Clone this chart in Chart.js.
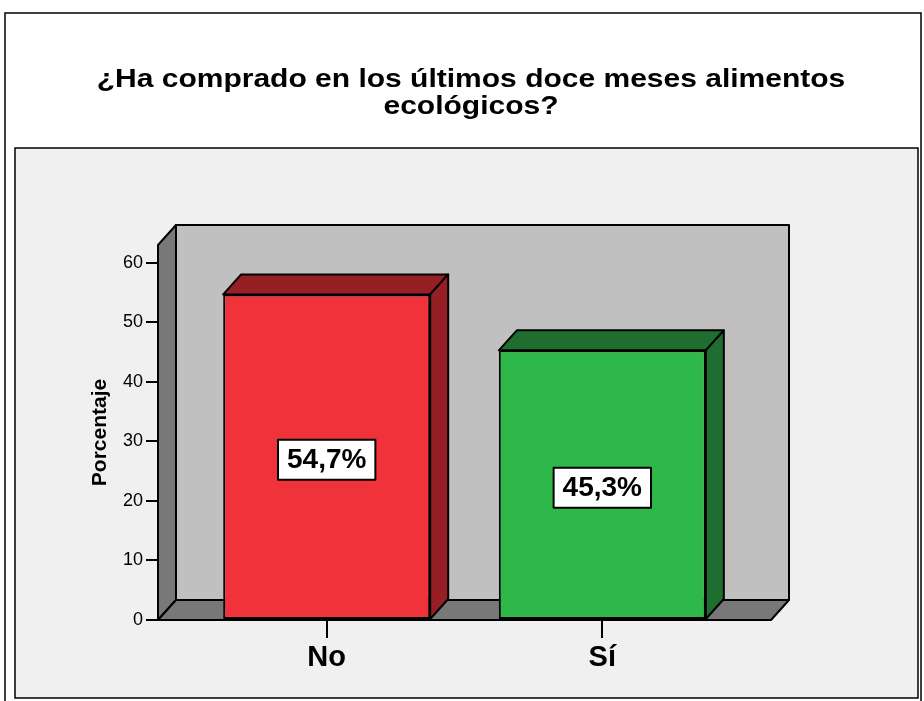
<!DOCTYPE html>
<html>
<head>
<meta charset="utf-8">
<script src="https://cdn.jsdelivr.net/npm/chart.js@4"></script>
<style>
  html, body { margin: 0; padding: 0; background: #fff; }
  #wrap { width: 924px; height: 701px; }
</style>
</head>
<body>
<div id="wrap"><canvas id="bar3d" width="924" height="701"></canvas></div>
<script>
var categories = ["No", "Sí"];
var percentages = [54.7, 45.3];
var yTicks = [0, 10, 20, 30, 40, 50, 60];
var titleLines = ["¿Ha comprado en los últimos doce meses alimentos", "ecológicos?"];
var yTitle = "Porcentaje";

var frontColors = ["#F0323A", "#2EB84A"];
var shadeColors = ["#961F25", "#1F6E2F"];
var DX = 18, DY = -20; // depth of the 3d effect

function poly(ctx, pts, fill) {
  ctx.beginPath();
  ctx.moveTo(pts[0][0], pts[0][1]);
  for (var i = 1; i < pts.length; i++) ctx.lineTo(pts[i][0], pts[i][1]);
  ctx.closePath();
  ctx.fillStyle = fill;
  ctx.fill();
  ctx.stroke();
}

// background, frames and title
var framePlugin = {
  id: "frame",
  beforeDraw: function (chart) {
    var ctx = chart.ctx;
    ctx.save();
    ctx.fillStyle = "#fff";
    ctx.fillRect(0, 0, chart.width, chart.height);
    ctx.strokeStyle = "#000";
    ctx.lineWidth = 1.5;
    ctx.strokeRect(5, 13, 916, 720);
    ctx.fillStyle = "#F0F0F0";
    ctx.fillRect(15, 148, 903, 550);
    ctx.strokeRect(15, 148, 903, 550);

    ctx.fillStyle = "#000";
    ctx.font = "bold 25px 'Liberation Sans', Arial, sans-serif";
    ctx.textAlign = "center";
    ctx.textBaseline = "middle";
    titleLines.forEach(function (line, i) {
      ctx.save();
      ctx.translate(471, 80 + i * 27);
      ctx.scale(1.2, 1);
      ctx.fillText(line, 0, 0);
      ctx.restore();
    });
    ctx.restore();
  }
};

// walls, bar tops/sides and the boxed value labels
var boxPlugin = {
  id: "box3d",
  beforeDatasetsDraw: function (chart) {
    var ctx = chart.ctx, area = chart.chartArea;
    var y0 = chart.scales.y.getPixelForValue(0);
    var l = area.left, r = area.right, t = area.top;
    ctx.save();
    ctx.strokeStyle = "#000";
    ctx.lineWidth = 2;
    ctx.lineJoin = "round";
    poly(ctx, [[l + DX, t + DY], [r + DX, t + DY], [r + DX, y0 + DY], [l + DX, y0 + DY]], "#C0C0C0");
    poly(ctx, [[l, t], [l + DX, t + DY], [l + DX, y0 + DY], [l, y0]], "#787878");
    poly(ctx, [[l, y0], [l + DX, y0 + DY], [r + DX, y0 + DY], [r, y0]], "#787878");
    ctx.restore();
  },
  afterDatasetsDraw: function (chart) {
    var ctx = chart.ctx;
    var meta = chart.getDatasetMeta(0);
    ctx.save();
    ctx.strokeStyle = "#000";
    ctx.lineWidth = 2;
    ctx.lineJoin = "round";
    meta.data.forEach(function (bar, i) {
      var p = bar.getProps(["x", "y", "base", "width"], true);
      var x1 = p.x - p.width / 2, x2 = p.x + p.width / 2;
      poly(ctx, [[x1, p.y], [x1 + DX, p.y + DY], [x2 + DX, p.y + DY], [x2, p.y]], shadeColors[i]);
      poly(ctx, [[x2, p.y], [x2 + DX, p.y + DY], [x2 + DX, p.base + DY], [x2, p.base]], shadeColors[i]);

      var txt = percentages[i].toFixed(1).replace(".", ",") + "%";
      ctx.font = "bold 28px 'Liberation Sans', Arial, sans-serif";
      var w = ctx.measureText(txt).width + 18, h = 40;
      var cy = (p.y + p.base) / 2 + 3;
      ctx.fillStyle = "#fff";
      ctx.fillRect(p.x - w / 2, cy - h / 2, w, h);
      ctx.strokeRect(p.x - w / 2, cy - h / 2, w, h);
      ctx.fillStyle = "#000";
      ctx.textAlign = "center";
      ctx.textBaseline = "middle";
      ctx.fillText(txt, p.x, cy + 1);
    });
    ctx.restore();
  }
};

new Chart(document.getElementById("bar3d"), {
  type: "bar",
  data: {
    datasets: [{
      label: yTitle,
      data: percentages.map(function (v, i) { return { x: i, y: v }; }),
      backgroundColor: frontColors,
      borderColor: "#000",
      borderWidth: 2,
      borderSkipped: false,
      categoryPercentage: 1,
      barPercentage: 0.751
    }]
  },
  options: {
    responsive: false,
    animation: false,
    devicePixelRatio: 1,
    layout: { padding: { left: 88, right: 153, top: 245, bottom: 31 } },
    plugins: {
      legend: { display: false },
      tooltip: { enabled: false },
      title: { display: false }
    },
    scales: {
      x: {
        type: "linear",
        min: -0.612,
        max: 1.612,
        offset: false,
        afterBuildTicks: function (scale) {
          scale.ticks = categories.map(function (c, i) { return { value: i }; });
        },
        afterFit: function (scale) { scale.height = 50; },
        border: { display: false },
        grid: { offset: false, drawOnChartArea: false, tickLength: 18, color: "#000", lineWidth: 2 },
        ticks: {
          padding: 5,
          color: "#000",
          font: { family: "'Liberation Sans', Arial, sans-serif", size: 29, weight: "bold", lineHeight: 1 },
          maxRotation: 0,
          callback: function (v) { return categories[v]; }
        }
      },
      y: {
        min: 0,
        max: 63,
        afterBuildTicks: function (scale) {
          scale.ticks = yTicks.map(function (v) { return { value: v }; });
        },
        afterFit: function (scale) { scale.width = 70; },
        border: { display: false },
        grid: { drawOnChartArea: false, tickLength: 12, color: "#000", lineWidth: 2 },
        ticks: {
          padding: 3,
          color: "#000",
          font: { family: "'Liberation Sans', Arial, sans-serif", size: 18 }
        },
        title: {
          display: true,
          text: yTitle,
          color: "#000",
          padding: 0,
          font: { family: "'Liberation Sans', Arial, sans-serif", size: 21, weight: "bold" }
        }
      }
    }
  },
  plugins: [framePlugin, boxPlugin]
});
</script>
</body>
</html>
